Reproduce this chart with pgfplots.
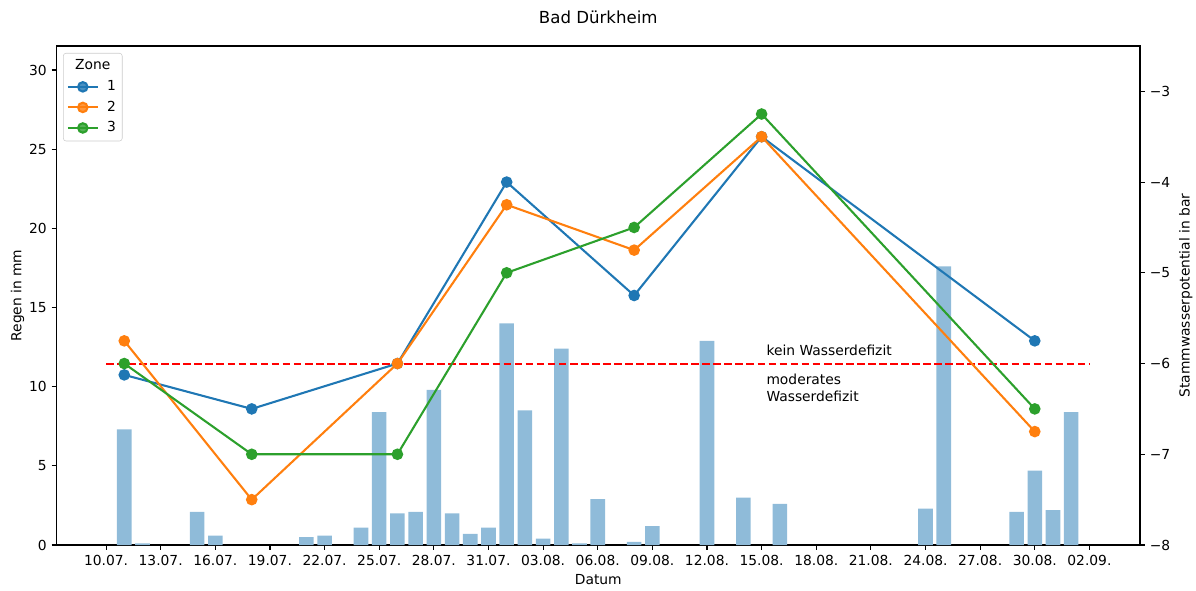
\documentclass[border=0pt]{standalone}
\usepackage{fontspec}
\setmainfont{DejaVu Sans}
\usepackage{pgfplots}
\pgfplotsset{compat=1.18}
\definecolor{tabblue}{RGB}{31,119,180}
\definecolor{taborange}{RGB}{255,127,14}
\definecolor{tabgreen}{RGB}{44,160,44}
\definecolor{barblue}{RGB}{143,187,217}
\begin{document}
\begin{tikzpicture}
\path[use as bounding box] (-40.7bp,-32.4bp) rectangle (820.4bp,392.4bp);
\pgfplotsset{common/.style={
  width=780.1bp, height=359.3bp, scale only axis,
  xmin=-2.72, xmax=56.78,
  at={(0,0)}, anchor=south west,
  tick align=outside, major tick length=3.5bp,
  tick style={black, line width=0.8bp},
  axis line style={line width=0.8bp},
  ticklabel style={font=\fontsize{10}{12}\selectfont},
  /pgf/number format/assume math mode=true,
  label style={font=\fontsize{10}{12}\selectfont},
}}
\begin{axis}[common,
  ymin=0, ymax=31.52,
  xtick={0,3,...,54},
  xticklabels={10.07.,13.07.,16.07.,19.07.,22.07.,25.07.,28.07.,31.07.,03.08.,06.08.,09.08.,12.08.,15.08.,18.08.,21.08.,24.08.,27.08.,30.08.,02.09.},
  ytick={0,5,...,30},
  xtick pos=lower, ytick pos=lower,
  xlabel={Datum}, ylabel={Regen in mm}, title={Bad Dürkheim},
  every axis x label/.style={at={(axis description cs:0.5,-0.0701)}, anchor=center},
  every axis y label/.style={at={(axis description cs:-0.0359,0.5)}, anchor=center, rotate=90},
  every axis title/.style={at={(axis description cs:0.5,1.0584)}, anchor=center, font=\fontsize{12}{14}\selectfont},
]
\addplot[ybar, bar width=0.8, fill=barblue, draw=none] coordinates {
(1,7.3) (2,0.1) (5,2.1) (6,0.6) (11,0.5) (12,0.6) (14,1.1) (15,8.4) (16,2.0)
(17,2.1) (18,9.8) (19,2.0) (20,0.7) (21,1.1) (22,14.0) (23,8.5) (24,0.4)
(25,12.4) (26,0.1) (27,2.9) (29,0.2) (30,1.2) (33,12.9) (35,3.0) (37,2.6)
(45,2.3) (46,17.6) (50,2.1) (51,4.7) (52,2.2) (53,8.4)
};
\end{axis}
\begin{axis}[common,
  ymin=-8, ymax=-2.5,
  hide x axis, axis y line*=right,
  ytick={-8,-7,-6,-5,-4,-3},
  yticklabels={−8,−7,−6,−5,−4,−3},
  ylabel={Stammwasserpotential in bar},
  every axis y label/.style={at={(axis description cs:1.0423,0.5)}, anchor=center, rotate=90},
  legend image code/.code={\draw[mark repeat=2,mark phase=2,#1] plot coordinates {(0bp,0bp) (10.8bp,0bp) (21.6bp,0bp)};},
  legend cell align=left,
  legend style={at={(axis description cs:0.006,0.986)}, anchor=north west,
    draw=black!20, rounded corners=2bp, fill=white, fill opacity=0.8, text opacity=1,
    font=\fontsize{10}{12}\selectfont, inner sep=2.5bp, row sep=1bp, column sep=4bp,
    nodes={inner sep=2bp, text height=7.5bp, text depth=2.3bp}},
]
\addlegendimage{empty legend}
\addlegendentry{\hspace*{-23bp}Zone}
\addplot[red, line width=1.5bp, dash pattern=on 5.55bp off 2.4bp, forget plot] coordinates {(0,-6) (54,-6)};
\addplot[tabblue, line width=1.5bp, mark=*, mark size=3.4bp, mark options={solid}] coordinates {
(1,-6.125) (8,-6.5) (16,-6) (22,-4) (29,-5.25) (36,-3.5) (51,-5.75)};
\addlegendentry{1}
\addplot[taborange, line width=1.5bp, mark=*, mark size=3.4bp, mark options={solid}] coordinates {
(1,-5.75) (8,-7.5) (16,-6) (22,-4.25) (29,-4.75) (36,-3.5) (51,-6.75)};
\addlegendentry{2}
\addplot[tabgreen, line width=1.5bp, mark=*, mark size=3.4bp, mark options={solid}] coordinates {
(1,-6) (8,-7) (16,-7) (22,-5) (29,-4.5) (36,-3.25) (51,-6.5)};
\addlegendentry{3}
\node[anchor=west, font=\fontsize{10}{12}\selectfont] at (axis cs:36,-5.86) {kein Wasserdefizit};
\node[anchor=west, align=left, font=\fontsize{10}{12}\selectfont] at (axis cs:36,-6.27) {moderates\\Wasserdefizit};
\end{axis}
\end{tikzpicture}
\end{document}
